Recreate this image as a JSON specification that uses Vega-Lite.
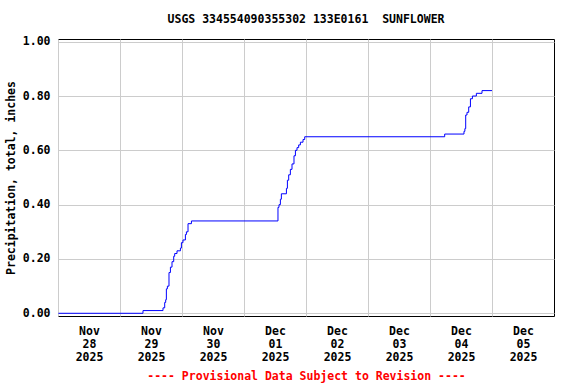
{
  "$schema": "https://vega.github.io/schema/vega-lite/v6.json",
  "width": 496,
  "height": 277,
  "autosize": "none",
  "padding": {"left": 58, "top": 39, "right": 22, "bottom": 68},
  "background": "white",
  "config": {
    "view": {"stroke": "black", "strokeWidth": 1},
    "font": "DejaVu Sans Mono"
  },
  "title": {
    "text": "USGS 334554090355302 133E0161 \u00a0SUNFLOWER",
    "font": "DejaVu Sans Mono",
    "fontSize": 11.5,
    "fontWeight": "bold",
    "color": "black",
    "anchor": "middle",
    "offset": 10
  },
  "data": {
    "values": [
      {"time": "2025-11-28T00:10:00Z", "precip": 0.0},
      {"time": "2025-11-29T08:54:00Z", "precip": 0.01},
      {"time": "2025-11-29T16:39:00Z", "precip": 0.02},
      {"time": "2025-11-29T17:18:00Z", "precip": 0.04},
      {"time": "2025-11-29T17:41:00Z", "precip": 0.05},
      {"time": "2025-11-29T17:57:00Z", "precip": 0.09},
      {"time": "2025-11-29T18:21:00Z", "precip": 0.10},
      {"time": "2025-11-29T18:58:00Z", "precip": 0.15},
      {"time": "2025-11-29T19:31:00Z", "precip": 0.17},
      {"time": "2025-11-29T20:08:00Z", "precip": 0.19},
      {"time": "2025-11-29T20:47:00Z", "precip": 0.21},
      {"time": "2025-11-29T21:10:00Z", "precip": 0.22},
      {"time": "2025-11-29T22:04:00Z", "precip": 0.23},
      {"time": "2025-11-29T23:23:00Z", "precip": 0.24},
      {"time": "2025-11-29T23:46:00Z", "precip": 0.26},
      {"time": "2025-11-30T00:23:00Z", "precip": 0.27},
      {"time": "2025-11-30T01:19:00Z", "precip": 0.29},
      {"time": "2025-11-30T01:42:00Z", "precip": 0.30},
      {"time": "2025-11-30T02:20:00Z", "precip": 0.33},
      {"time": "2025-11-30T03:39:00Z", "precip": 0.34},
      {"time": "2025-12-01T13:09:00Z", "precip": 0.39},
      {"time": "2025-12-01T13:33:00Z", "precip": 0.40},
      {"time": "2025-12-01T14:05:00Z", "precip": 0.42},
      {"time": "2025-12-01T14:28:00Z", "precip": 0.44},
      {"time": "2025-12-01T16:25:00Z", "precip": 0.46},
      {"time": "2025-12-01T16:48:00Z", "precip": 0.49},
      {"time": "2025-12-01T17:18:00Z", "precip": 0.51},
      {"time": "2025-12-01T17:57:00Z", "precip": 0.53},
      {"time": "2025-12-01T18:35:00Z", "precip": 0.55},
      {"time": "2025-12-01T19:21:00Z", "precip": 0.58},
      {"time": "2025-12-01T19:54:00Z", "precip": 0.60},
      {"time": "2025-12-01T20:31:00Z", "precip": 0.61},
      {"time": "2025-12-01T21:10:00Z", "precip": 0.62},
      {"time": "2025-12-01T21:50:00Z", "precip": 0.63},
      {"time": "2025-12-01T22:51:00Z", "precip": 0.64},
      {"time": "2025-12-01T23:30:00Z", "precip": 0.65},
      {"time": "2025-12-04T05:41:00Z", "precip": 0.66},
      {"time": "2025-12-04T13:09:00Z", "precip": 0.67},
      {"time": "2025-12-04T13:30:00Z", "precip": 0.68},
      {"time": "2025-12-04T13:49:00Z", "precip": 0.73},
      {"time": "2025-12-04T14:19:00Z", "precip": 0.74},
      {"time": "2025-12-04T14:59:00Z", "precip": 0.76},
      {"time": "2025-12-04T15:39:00Z", "precip": 0.79},
      {"time": "2025-12-04T16:25:00Z", "precip": 0.80},
      {"time": "2025-12-04T17:57:00Z", "precip": 0.81},
      {"time": "2025-12-04T20:08:00Z", "precip": 0.82},
      {"time": "2025-12-05T00:00:00Z", "precip": 0.82}
    ]
  },
  "mark": {"type": "line", "interpolate": "step-after", "color": "#0000ff", "strokeWidth": 1},
  "encoding": {
    "x": {
      "field": "time",
      "type": "temporal",
      "scale": {
        "type": "utc",
        "domain": [
          {"year": 2025, "month": 11, "date": 28, "utc": true},
          {"year": 2025, "month": 12, "date": 6, "utc": true}
        ]
      },
      "axis": {
        "values": [
          {"year": 2025, "month": 11, "date": 28, "utc": true},
          {"year": 2025, "month": 11, "date": 29, "utc": true},
          {"year": 2025, "month": 11, "date": 30, "utc": true},
          {"year": 2025, "month": 12, "date": 1, "utc": true},
          {"year": 2025, "month": 12, "date": 2, "utc": true},
          {"year": 2025, "month": 12, "date": 3, "utc": true},
          {"year": 2025, "month": 12, "date": 4, "utc": true},
          {"year": 2025, "month": 12, "date": 5, "utc": true}
        ],
        "labelExpr": "[utcFormat(datum.value, '%b'), utcFormat(datum.value, '%d'), utcFormat(datum.value, '%Y')]",
        "labelOffset": 31,
        "labelFlush": false,
        "labelOverlap": false,
        "labelBound": false,
        "labelFont": "DejaVu Sans Mono",
        "labelFontSize": 11.5,
        "labelFontWeight": "bold",
        "labelColor": "black",
        "labelLineHeight": 13,
        "labelPadding": 9,
        "ticks": false,
        "domain": false,
        "grid": true,
        "gridColor": "#cccccc",
        "gridOpacity": 1,
        "title": "---- Provisional Data Subject to Revision ----",
        "titleFont": "DejaVu Sans Mono",
        "titleFontSize": 11.5,
        "titleFontWeight": "bold",
        "titleColor": "#ff0000",
        "titlePadding": 8
      }
    },
    "y": {
      "field": "precip",
      "type": "quantitative",
      "scale": {"domain": [-0.01, 1.01], "nice": false, "zero": false},
      "axis": {
        "values": [0, 0.2, 0.4, 0.6, 0.8, 1.0],
        "format": ".2f",
        "labelFont": "DejaVu Sans Mono",
        "labelFontSize": 11.5,
        "labelFontWeight": "bold",
        "labelColor": "black",
        "labelPadding": 8,
        "ticks": false,
        "domain": false,
        "grid": true,
        "gridColor": "#cccccc",
        "gridOpacity": 1,
        "title": "Precipitation, total, inches",
        "titleFont": "DejaVu Sans Mono",
        "titleFontSize": 11.5,
        "titleFontWeight": "bold",
        "titleColor": "black",
        "titlePadding": 6
      }
    }
  }
}
